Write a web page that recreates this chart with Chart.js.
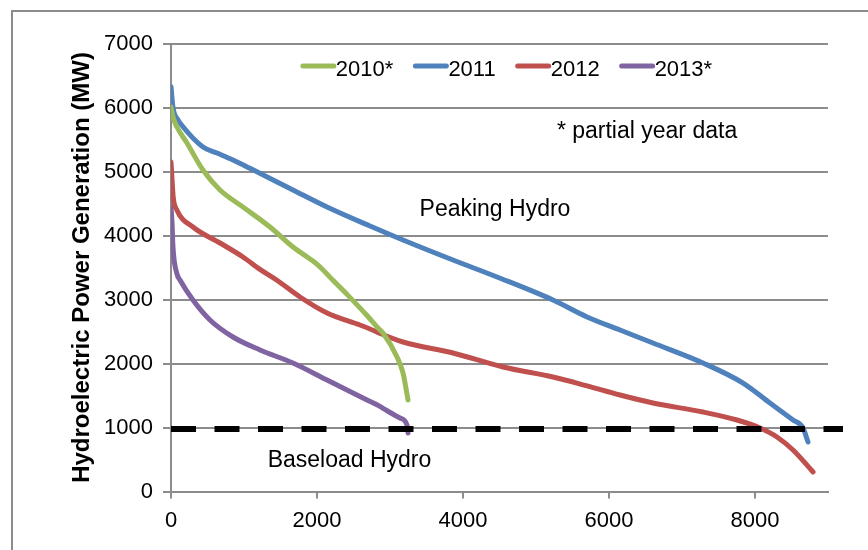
<!DOCTYPE html>
<html><head><meta charset="utf-8">
<script src="https://cdn.jsdelivr.net/npm/chart.js@4/dist/chart.umd.min.js"></script>
<style>
html,body{margin:0;padding:0;background:#fff;}
#wrap{position:relative;width:868px;height:550px;overflow:hidden;}
#frame{position:absolute;left:11px;top:10px;width:900px;height:600px;border-top:2px solid #8c8c8c;border-left:2px solid #8c8c8c;pointer-events:none;}
canvas{position:absolute;left:0;top:0;}
</style></head><body>
<div id="wrap"><canvas id="c" width="868" height="550"></canvas><div id="frame"></div></div>
<script>
// ---- data (hours ranked vs MW) ----
const seriesNames = ['2010*', '2011', '2012', '2013*'];
const seriesColors = ['#9BBB59', '#4F81BD', '#C0504D', '#8064A2'];

const hours2010 = [0, 27, 82, 219, 438, 671, 986, 1356, 1671, 1945, 2041, 2219, 2411, 2685, 2836, 2904, 3096, 3178, 3247];
const mw2010    = [6008, 5852, 5695, 5445, 5023, 4711, 4445, 4133, 3820, 3600, 3508, 3300, 3080, 2750, 2555, 2476, 2102, 1852, 1430];

const hours2011 = [0, 27, 96, 123, 438, 630, 849, 1082, 1671, 2137, 2726, 3178, 3863, 4466, 5233, 5699, 6151, 6603, 7288, 7836, 8205, 8521, 8658, 8726];
const mw2011    = [6325, 6000, 5805, 5758, 5383, 5289, 5180, 5050, 4711, 4445, 4148, 3930, 3617, 3352, 2992, 2727, 2523, 2320, 2008, 1695, 1383, 1117, 992, 773];

const hours2012 = [0, 14, 30, 80, 301, 671, 986, 1219, 1452, 1767, 2137, 2589, 2726, 2863, 3178, 3863, 4548, 5233, 5700, 6151, 6603, 7288, 7753, 8068, 8301, 8521, 8795];
const mw2012    = [5148, 4880, 4600, 4400, 4133, 3883, 3664, 3470, 3300, 3039, 2789, 2601, 2540, 2470, 2336, 2164, 1945, 1789, 1650, 1508, 1383, 1242, 1117, 992, 852, 648, 305];

const hours2013 = [0, 14, 27, 82, 123, 301, 534, 849, 1219, 1671, 2137, 2493, 2685, 2822, 2904, 3137, 3233, 3247];
const mw2013    = [4445, 4200, 3820, 3400, 3305, 2992, 2680, 2414, 2211, 2008, 1742, 1539, 1430, 1355, 1300, 1148, 1039, 914];

const baseloadHours = [0, 9205];
const baseloadMW = [975, 975];

const xTickValues = [0, 2000, 4000, 6000, 8000];
const yTitle = 'Hydroelectric Power Generation (MW)';
const noteTexts = ['Peaking Hydro', 'Baseload Hydro', '* partial year data'];
const noteHours = [4438, 2445, 6521];
const noteMW = [4398, 477, 5617];

// ---- build ----
const FONT = '"Liberation Sans", Arial, sans-serif';
Chart.defaults.font.family = FONT;
Chart.defaults.color = '#000';

function pts(xs, ys) { return xs.map((x, i) => ({ x: x, y: ys[i] })); }
const allX = [hours2010, hours2011, hours2012, hours2013];
const allY = [mw2010, mw2011, mw2012, mw2013];

const datasets = seriesNames.map((n, i) => ({
  label: n,
  data: pts(allX[i], allY[i]),
  borderColor: seriesColors[i],
  backgroundColor: seriesColors[i],
  borderWidth: 5,
  pointRadius: 0,
  cubicInterpolationMode: 'monotone',
  borderCapStyle: 'round',
  borderJoinStyle: 'round',
  order: 1
}));
datasets.push({
  label: 'Baseload',
  data: pts(baseloadHours, baseloadMW),
  borderColor: '#000',
  borderWidth: 6,
  borderDash: [25, 18.5],
  pointRadius: 0,
  clip: false,
  order: 0
});

const notesPlugin = {
  id: 'notes',
  afterDatasetsDraw(chart) {
    const ctx = chart.ctx, xs = chart.scales.x, ys = chart.scales.y;
    ctx.save();
    ctx.font = '23px ' + FONT;
    ctx.fillStyle = '#000';
    ctx.textAlign = 'center';
    ctx.textBaseline = 'middle';
    noteTexts.forEach((t, i) => ctx.fillText(t, xs.getPixelForValue(noteHours[i]), ys.getPixelForValue(noteMW[i])));
    ctx.restore();
  }
};

// in-plot horizontal legend (line sample directly followed by its label)
const inLegendPlugin = {
  id: 'inLegend',
  afterDatasetsDraw(chart) {
    const ctx = chart.ctx, area = chart.chartArea;
    const lineW = 35, itemGap = 20;
    ctx.save();
    ctx.font = '22px ' + FONT;
    const widths = seriesNames.map(n => lineW + ctx.measureText(n).width);
    const total = widths.reduce((a, b) => a + b, 0) + itemGap * (seriesNames.length - 1);
    let x = (area.left + area.right) / 2 + 7 - total / 2;
    const lineY = area.top + 22.5, textY = area.top + 26.5;
    seriesNames.forEach((n, i) => {
      ctx.strokeStyle = seriesColors[i];
      ctx.lineWidth = 5;
      ctx.lineCap = 'round';
      ctx.beginPath();
      ctx.moveTo(x + 2, lineY);
      ctx.lineTo(x + lineW - 2, lineY);
      ctx.stroke();
      ctx.fillStyle = '#000';
      ctx.textAlign = 'left';
      ctx.textBaseline = 'middle';
      ctx.fillText(n, x + lineW, textY);
      x += widths[i] + itemGap;
    });
    ctx.restore();
  }
};

const GRID = '#8c8c8c';
new Chart(document.getElementById('c'), {
  type: 'line',
  data: { datasets: datasets },
  plugins: [notesPlugin, inLegendPlugin],
  options: {
    responsive: false,
    animation: false,
    layout: { padding: { left: 65, top: 43.5, right: 40, bottom: 0 } },
    plugins: {
      tooltip: { enabled: false },
      legend: { display: false }
    },
    scales: {
      x: {
        type: 'linear', min: 0, max: 9000,
        afterBuildTicks: (s) => { s.ticks = xTickValues.map(v => ({ value: v })); },
        ticks: { font: { size: 22 }, color: '#000', padding: 9, maxRotation: 0, autoSkip: false, callback: (v) => String(v) },
        grid: { drawOnChartArea: false, drawTicks: true, tickLength: 7, color: GRID, lineWidth: 2 },
        border: { color: GRID, width: 2 },
        afterFit: (s) => { s.height = 58.5; }
      },
      y: {
        min: 0, max: 7000,
        ticks: { stepSize: 1000, font: { size: 22 }, color: '#000', padding: 10, callback: (v) => String(v) },
        grid: { color: GRID, lineWidth: 2, tickLength: 8 },
        border: { color: GRID, width: 2 },
        title: { display: true, text: yTitle, font: { size: 24, weight: 'bold' }, color: '#000', padding: { top: 3, bottom: 0 } },
        afterFit: (s) => { s.width = 106; }
      }
    }
  }
});
</script>
</body></html>
